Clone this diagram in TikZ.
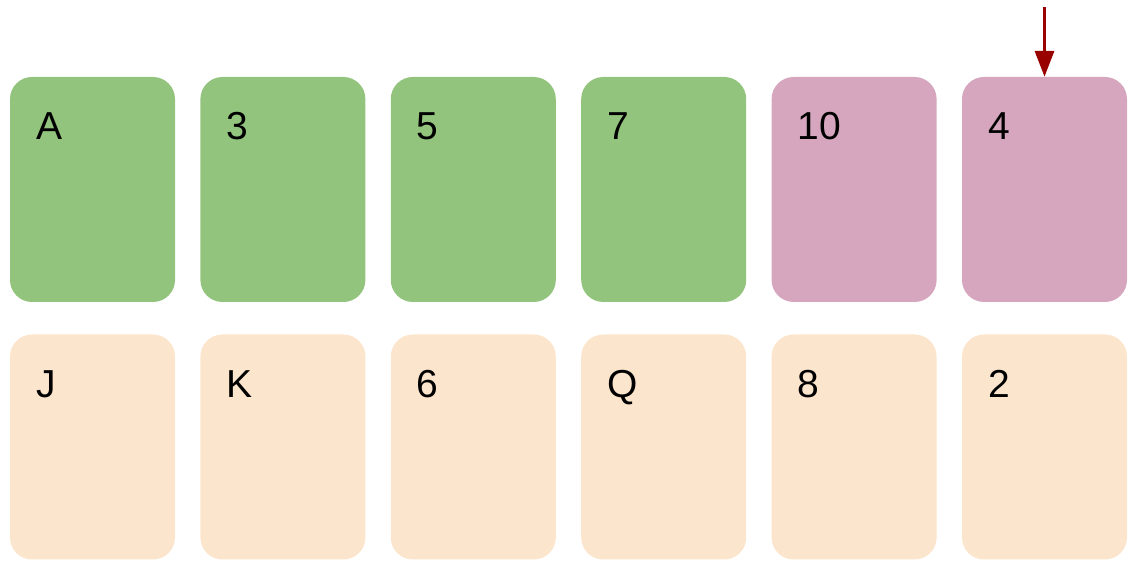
\documentclass[tikz,border=0pt]{standalone}
\usepackage{fontspec}
\setmainfont{Liberation Sans}
\usetikzlibrary{positioning,arrows.meta}

\definecolor{cardgreen}{HTML}{93C47D}
\definecolor{cardpink}{HTML}{D5A6BD}
\definecolor{cardpeach}{HTML}{FCE5CD}
\definecolor{pointred}{HTML}{990000}

\tikzset{
  card/.style={rectangle,rounded corners=22pt,minimum width=165pt,minimum height=225pt,inner sep=0pt},
  cardtext/.style={anchor=base west,inner sep=0pt,font=\fontsize{39}{47}\selectfont},
}

\begin{document}
\begin{tikzpicture}[x=1pt,y=1pt]
\useasboundingbox (0,0) rectangle (1130,561);

%top row
\foreach \i/\v/\c in {1/A/cardgreen,2/3/cardgreen,3/5/cardgreen,4/7/cardgreen,5/10/cardpink,6/4/cardpink}{
  \node[card,fill=\c] (t\i) at ({92.5+190.4*(\i-1)},371.5) {};
  \node[cardtext] (tl\i) at ([shift={(26,-63)}]t\i.north west) {\v};
}

%bottom row
\foreach \i/\v in {1/J,2/K,3/6,4/Q,5/8,6/2}{
  \node[card,fill=cardpeach] (b\i) at ({92.5+190.4*(\i-1)},114) {};
  \node[cardtext] (bl\i) at ([shift={(26,-63)}]b\i.north west) {\v};
}

%pointer
\coordinate (ptr) at (t6.north |- 0,554);
\draw[pointred,line width=3.5pt,-{Triangle[length=26pt,width=19pt]}] (ptr) -- (t6.north);
\end{tikzpicture}
\end{document}
